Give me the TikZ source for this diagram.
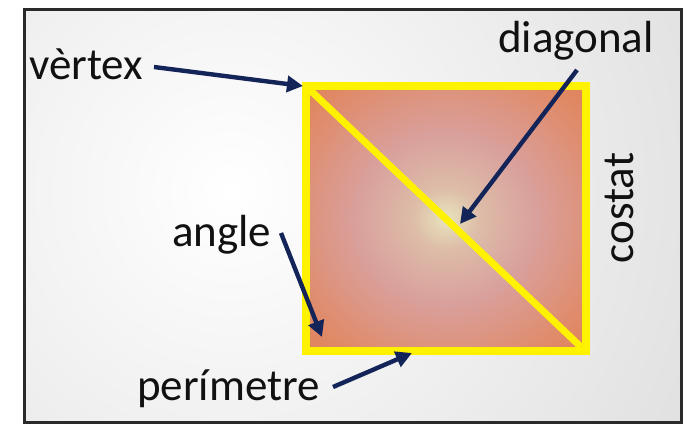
\documentclass[tikz,border=0pt]{standalone}
\usepackage{fontspec}
\setmainfont{Carlito}
\usetikzlibrary{arrows.meta}
\definecolor{navy}{HTML}{132458}
\definecolor{frame}{HTML}{2A2A2A}
\definecolor{txt}{HTML}{111111}
\definecolor{cC}{HTML}{E8E4BC}
\definecolor{cM}{HTML}{DDBCA8}
\definecolor{cP}{HTML}{D9A09C}
\definecolor{cO1}{HTML}{E08A68}
\definecolor{cO2}{HTML}{E07640}
\definecolor{cO3}{HTML}{E06A2A}
\definecolor{bgout}{HTML}{C4C4C4}
\pgfdeclareradialshading{sqshade}{\pgfpoint{0bp}{0bp}}{color(0bp)=(cC); color(6bp)=(cM); color(16bp)=(cP); color(30bp)=(cO1); color(46bp)=(cO2); color(70bp)=(cO3)}
\tikzset{
  lbl/.style={text=txt, inner sep=0pt, font=\fontsize{45}{47}\selectfont},
  arr/.style={draw=navy, line width=4.4pt, -{Triangle[length=16pt,width=16pt]}},
}
\begin{document}
\begin{tikzpicture}[x=1pt,y=-1pt]
\useasboundingbox (0,0) rectangle (690,430);
\fill[white] (0,0) rectangle (690,430);
% background
\begin{scope}
\clip (24,10) rectangle (681,422);
\shade[inner color=white, outer color=bgout] (230,190) circle[radius=1000];
\end{scope}
\draw[frame, line width=3pt] (24,10) rectangle (681,422);
% square
\shade[shading=sqshade] (306,86.5) rectangle (585.5,350.5);
\draw[yellow, line width=8pt] (306,86.5) rectangle (585.5,350.5);
\coordinate (tl) at (310,90);
\coordinate (br) at (581,347);
\draw[yellow, line width=7pt] (tl) -- (br);
% labels
\node[lbl, anchor=base west] (vertex) at (29,80) {vèrtex};
\node[lbl, anchor=base west] (diag) at (498,53) {diagonal};
\node[lbl, anchor=base west] (angle) at (172,247) {angle};
\node[lbl, anchor=base west] (perim) at (137,400) {perímetre};
\node[lbl, anchor=base, rotate=90] (costat) at (633,208) {costat};
% arrow endpoints
\coordinate (v0) at (154,67);
\coordinate (v1) at (303,86);
\coordinate (d0) at (577,70);
\coordinate (d1) at (460,224);
\coordinate (a0) at (281,233);
\coordinate (a1) at (322,337);
\coordinate (p0) at (333,387);
\coordinate (p1) at (412,353);
\draw[arr] (v0) -- (v1);
\draw[arr] (d0) -- (d1);
\draw[arr] (a0) -- (a1);
\draw[arr] (p0) -- (p1);
\end{tikzpicture}
\end{document}
